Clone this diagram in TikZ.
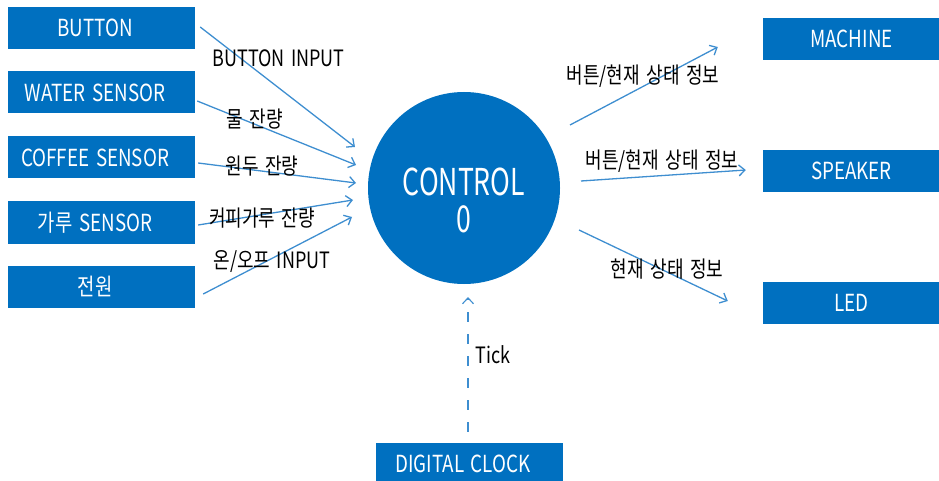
\documentclass[tikz,border=0pt]{standalone}
\usepackage{fontspec}
\setmainfont{Noto Sans CJK KR}
\newfontfamily\boxfont[FakeStretch=0.8]{Noto Sans CJK KR}
\newfontfamily\lblfont[FakeStretch=0.8,WordSpace=1.6]{Noto Sans CJK KR}
\newfontfamily\ctrlfont[FakeStretch=0.72]{Noto Sans CJK KR}
\usetikzlibrary{arrows.meta}
\definecolor{boxblue}{RGB}{0,112,192}
\definecolor{arrblue}{RGB}{62,142,208}
\begin{document}
\begin{tikzpicture}[x=1pt,y=-1pt,
  box/.style={fill=boxblue, draw=none, text=white, minimum height=42pt, inner sep=0pt, font=\boxfont\fontsize{23.5}{26}\selectfont},
  lbox/.style={box, minimum width=187pt, execute at end node={\hspace{13pt}}},
  rbox/.style={box, minimum width=177pt},
  lbl/.style={font=\lblfont\fontsize{22.5}{26}\selectfont, text=black, inner sep=0pt},
  arr/.style={draw=arrblue, line width=1.3pt, -{Straight Barb[length=6pt,width=11pt]}},
]
\useasboundingbox (0,0) rectangle (939,481);

% left boxes
\node[lbox] (btn) at (101.5,28) {BUTTON};
\node[lbox] (wat) at (101.5,92.5) {WATER SENSOR};
\node[lbox] (cof) at (101.5,157.5) {COFFEE SENSOR};
\node[lbox] (pow) at (101.5,222.5) {가루 SENSOR};
\node[lbox] (pwr) at (101.5,286.5) {전원};

% right boxes
\node[rbox] (mach) at (851.5,39) {MACHINE};
\node[rbox] (spk) at (851.5,171) {SPEAKER};
\node[rbox] (led) at (851.5,302.5) {LED};

% clock
\node[lbox] (clk) at (469.5,464) {DIGITAL CLOCK};

% control circle
\node[circle, fill=boxblue, minimum size=192pt, inner sep=0pt,
  label={[text=white, font=\ctrlfont\fontsize{37}{37}\selectfont, align=center, yshift=-12pt]center:CONTROL\\0}] (ctrl) at (464,188) {};

% connector end points near the circle
\coordinate (in1) at (355,147);
\coordinate (in2) at (356,165);
\coordinate (in3) at (356,183);
\coordinate (in4) at (353,200);
\coordinate (in5) at (352,217);
\coordinate (out1) at (570,125);
\coordinate (out2) at (581,181);
\coordinate (out3) at (579,230);
\coordinate (tk) at (468,297);

% input arrows
\draw[arr] ([shift={(5,-1)}]btn.east) -- (in1);
\draw[arr] ([shift={(2,8.5)}]wat.east) -- (in2);
\draw[arr] ([shift={(3,5.5)}]cof.east) -- (in3);
\draw[arr] ([shift={(3,2.5)}]pow.east) -- (in4);
\draw[arr] ([shift={(8,7.5)}]pwr.east) -- (in5);

% output arrows
\draw[arr] (out1) -- ([shift={(-45,8)}]mach.west);
\draw[arr] (out2) -- ([shift={(-17,-1)}]spk.west);
\draw[arr] (out3) -- ([shift={(-35,-1.5)}]led.west);

% tick
\draw[arr, line width=1.1pt, dash pattern=on 10pt off 12pt] ([shift={(-1.5,-11)}]clk.north) -- (tk);

% labels
\node[lbl] (l1) at (278.5,58) {BUTTON INPUT};
\node[lbl] (l2) at (255,119) {물 잔량};
\node[lbl] (l3) at (262,166) {원두 잔량};
\node[lbl] (l4) at (262,218) {커피가루 잔량};
\node[lbl] (l5) at (272,262) {온/오프 INPUT};
\node[lbl] (r1) at (643,76) {버튼/현재 상태 정보};
\node[lbl] (r2) at (662,161) {버튼/현재 상태 정보};
\node[lbl] (r3) at (667,269) {현재 상태 정보};
\node[lbl] (tl) at (493,355) {Tick};
\end{tikzpicture}
\end{document}
